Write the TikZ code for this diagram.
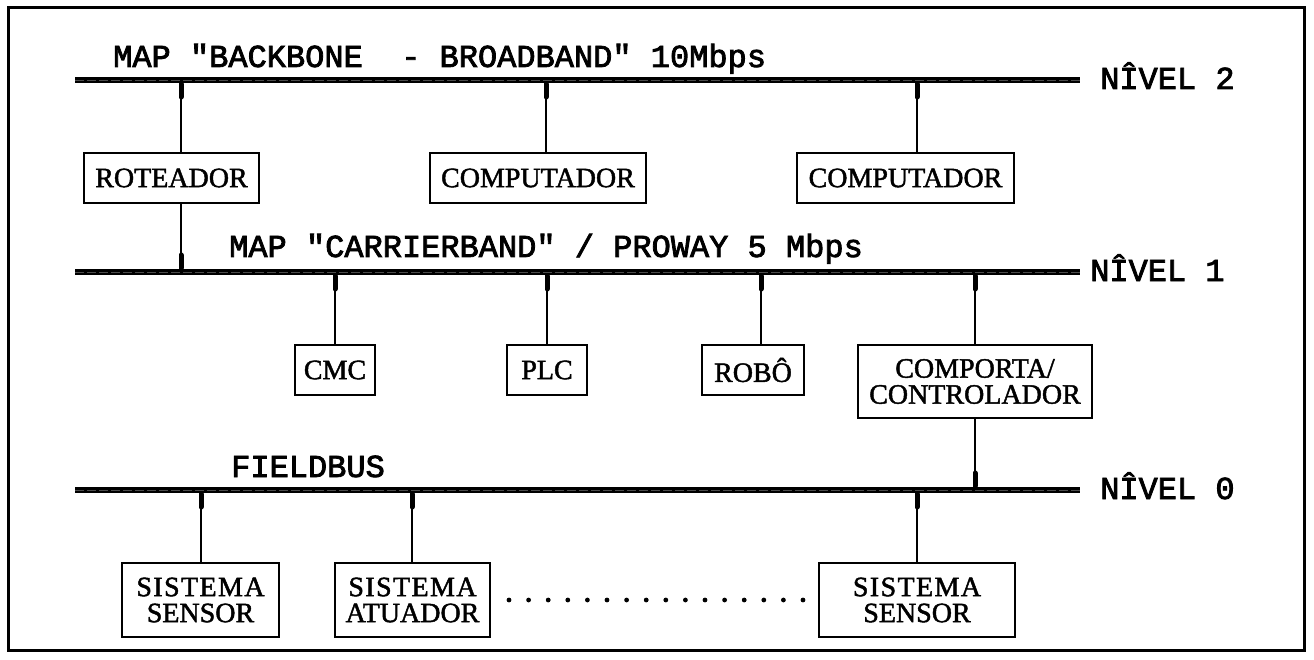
\documentclass[tikz,border=0pt]{standalone}
\usepackage{fontspec}
\setmainfont{Liberation Serif}
\newfontfamily\boxfamily{Liberation Serif}[FakeBold=1.6]
\newfontfamily\busfamily{Liberation Mono}[FakeBold=2.5]
\begin{document}
\begin{tikzpicture}[x=1pt,y=-1pt,
  box/.style={draw, line width=2.8pt, inner sep=0pt, align=center,
    font=\boxfamily\fontsize{28pt}{26pt}\selectfont},
  bus/.style={line width=6.5pt},
  busin/.style={line width=0.6pt, black!70, dash pattern=on 9pt off 3pt},
  link/.style={line width=2.8pt},
  tap/.style={line width=5pt, line cap=round},
  buslabel/.style={font=\busfamily\fontsize{32pt}{32pt}\selectfont, anchor=base west, inner sep=0pt}
]
\useasboundingbox (0,0) rectangle (1314,660);
\draw[line width=3pt] (8,8) rectangle (1304,650);

% bus coordinates
\coordinate (b2w) at (75,80);  \coordinate (b2e) at (1080,80);
\coordinate (b1w) at (75,272); \coordinate (b1e) at (1080,272);
\coordinate (b0w) at (75,490); \coordinate (b0e) at (1080,490);

% taps
\coordinate (t2a) at (181,80); \coordinate (t2b) at (546,80); \coordinate (t2c) at (917,80);
\coordinate (t1r) at (181,272); \coordinate (t1a) at (335,272); \coordinate (t1b) at (547,272);
\coordinate (t1c) at (761,272); \coordinate (t1d) at (975,272);
\coordinate (t0g) at (975,490); \coordinate (t0a) at (201,490); \coordinate (t0b) at (412,490);
\coordinate (t0c) at (917,490);

% labels
\node[buslabel] (l2) at (113,67) {MAP "BACKBONE\ \ - BROADBAND" 10Mbps};
\node[buslabel] (l1) at (229,257) {MAP "CARRIERBAND" / PROWAY 5 Mbps};
\node[buslabel] (l0) at (231,477) {FIELDBUS};
\node[buslabel] (n2) at (1100,89) {NÎVEL 2};
\node[buslabel] (n1) at (1090,281) {NÎVEL 1};
\node[buslabel] (n0) at (1100,499) {NÎVEL 0};

% boxes
\node[box, minimum width=175pt, minimum height=50pt] (rot) at (171.5,178) {ROTEADOR};
\node[box, minimum width=216pt, minimum height=50pt] (comp1) at (538,178) {COMPUTADOR};
\node[box, minimum width=217pt, minimum height=50pt] (comp2) at (905.5,178) {COMPUTADOR};
\node[box, minimum width=80pt, minimum height=50pt] (cmc) at (335,370) {CMC};
\node[box, minimum width=80pt, minimum height=50pt] (plc) at (547,370) {PLC};
\node[box, minimum width=102pt, minimum height=50pt] (robo) at (753,370) {ROBÔ};
\node[box, minimum width=234pt, minimum height=73pt] (gw) at (975,381.5) {COMPORTA/\\CONTROLADOR};
\node[box, minimum width=157pt, minimum height=74pt] (ss1) at (200.5,600) {{\addfontfeature{LetterSpace=5}SISTEMA}\\SENSOR};
\node[box, minimum width=155pt, minimum height=74pt] (sa) at (412.5,600) {{\addfontfeature{LetterSpace=5}SISTEMA}\\ATUADOR};
\node[box, minimum width=196pt, minimum height=74pt] (ss2) at (917,600) {{\addfontfeature{LetterSpace=5}SISTEMA}\\SENSOR};

% dots
\foreach \i in {0,...,15} \fill (509+19.6*\i,600) circle (2.4pt);

% links downward from buses
\foreach \t/\b in {t2a/rot, t2b/comp1, t2c/comp2, t1a/cmc, t1b/plc, t1c/robo, t1d/gw, t0a/ss1, t0b/sa, t0c/ss2}{
  \draw[link] (\t) -- (\b.north -| \t);
  \draw[tap] (\t) ++(0,4) -- ++(0,13);
}
% links upward to buses
\draw[link] (rot.south -| t1r) -- (t1r);
\draw[tap] (t1r) ++(0,-4) -- ++(0,-13);
\draw[link] (gw.south) -- (t0g);
\draw[tap] (t0g) ++(0,-4) -- ++(0,-13);

% buses
\foreach \w/\e in {b2w/b2e, b1w/b1e, b0w/b0e}{
  \draw[bus] (\w) -- (\e);
  \draw[busin] (\w) -- (\e);
}
\end{tikzpicture}
\end{document}
